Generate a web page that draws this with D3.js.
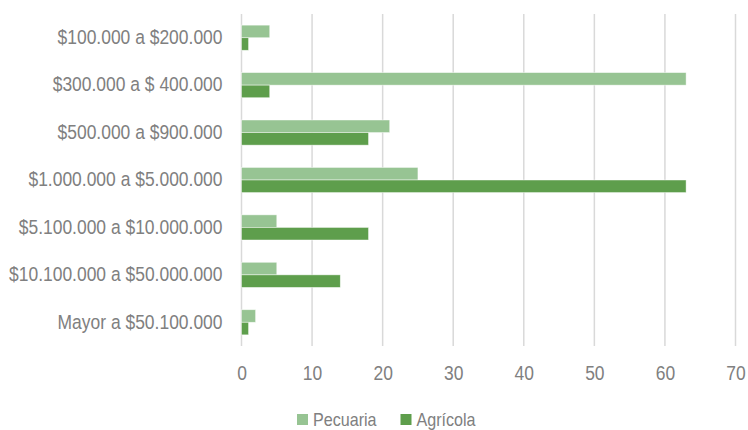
<!DOCTYPE html>
<html><head><meta charset="utf-8">
<script src="https://cdn.jsdelivr.net/npm/d3@7"></script>
<style>body{margin:0;background:#fff}svg{display:block}</style>
</head><body>
<script>
const categories = ["$100.000 a $200.000","$300.000 a $ 400.000","$500.000 a $900.000","$1.000.000 a $5.000.000","$5.100.000 a $10.000.000","$10.100.000 a $50.000.000","Mayor a $50.100.000"];
const seriesNames = ["Pecuaria","Agrícola"];
const pecuaria = [4,63,21,25,5,5,2];
const agricola = [1,4,18,63,18,14,1];
const xTicks = [0,10,20,30,40,50,60,70];
const colors = ["#97c493","#5e9e4c"];

const W=748,H=430;
const font = "'Liberation Sans',Arial,sans-serif";
const FS = 19.5, SX = 0.895;
const svg = d3.select("body").append("svg").attr("width",W).attr("height",H);
const x = d3.scaleLinear().domain([0,70]).range([241.5,735.5]);
const y = d3.scaleBand().domain(categories).range([14,346]).paddingInner(0.47).paddingOuter(0.235);
const sub = d3.scaleBand().domain(seriesNames).range([0,y.bandwidth()]);

function narrow(sel, fs){
  sel.attr("font-family",font).attr("font-size",fs||FS).attr("fill","#808080")
    .each(function(){
      const t=d3.select(this);
      const xv=+(t.attr("x")||0);
      t.attr("x",xv/SX).attr("transform",`scale(${SX},1)`);
    });
}

// gridlines
svg.append("g").selectAll("line").data(xTicks).join("line")
  .attr("x1",d=>x(d)).attr("x2",d=>x(d)).attr("y1",14).attr("y2",346)
  .attr("stroke","#d9d9d9").attr("stroke-width",1.5);

const data = categories.map((c,i)=>({c, vals:[pecuaria[i],agricola[i]]}));
const g = svg.append("g");
data.forEach(d=>{
  seriesNames.forEach((s,j)=>{
    g.append("rect").attr("x",x(0)).attr("y",y(d.c)+sub(s))
      .attr("width",x(d.vals[j])-x(0)).attr("height",sub.bandwidth())
      .attr("fill",colors[j]).attr("stroke","#fff").attr("stroke-opacity",0.6).attr("stroke-width",0.75);
  });
});

// y axis labels
const yAxis = d3.axisLeft(y).tickSize(0).tickPadding(19);
const ya = svg.append("g").attr("transform",`translate(${x(0)},0)`).call(yAxis);
ya.select(".domain").remove();
ya.selectAll("text").call(narrow);

// x axis
const xAxis = d3.axisBottom(x).tickValues(xTicks).tickSize(0).tickPadding(20);
const xa = svg.append("g").attr("transform",`translate(0,346)`).call(xAxis);
xa.select(".domain").remove();
xa.selectAll("text").call(narrow);

// legend
const leg = svg.append("g");
const legX = [297,400.5];
seriesNames.forEach((s,j)=>{
  leg.append("rect").attr("x",legX[j]).attr("y",414).attr("width",11).attr("height",11).attr("fill",colors[j]);
  leg.append("text").attr("x",legX[j]+16).attr("y",425.8).text(s).call(narrow, 18);
});
</script>
</body></html>
